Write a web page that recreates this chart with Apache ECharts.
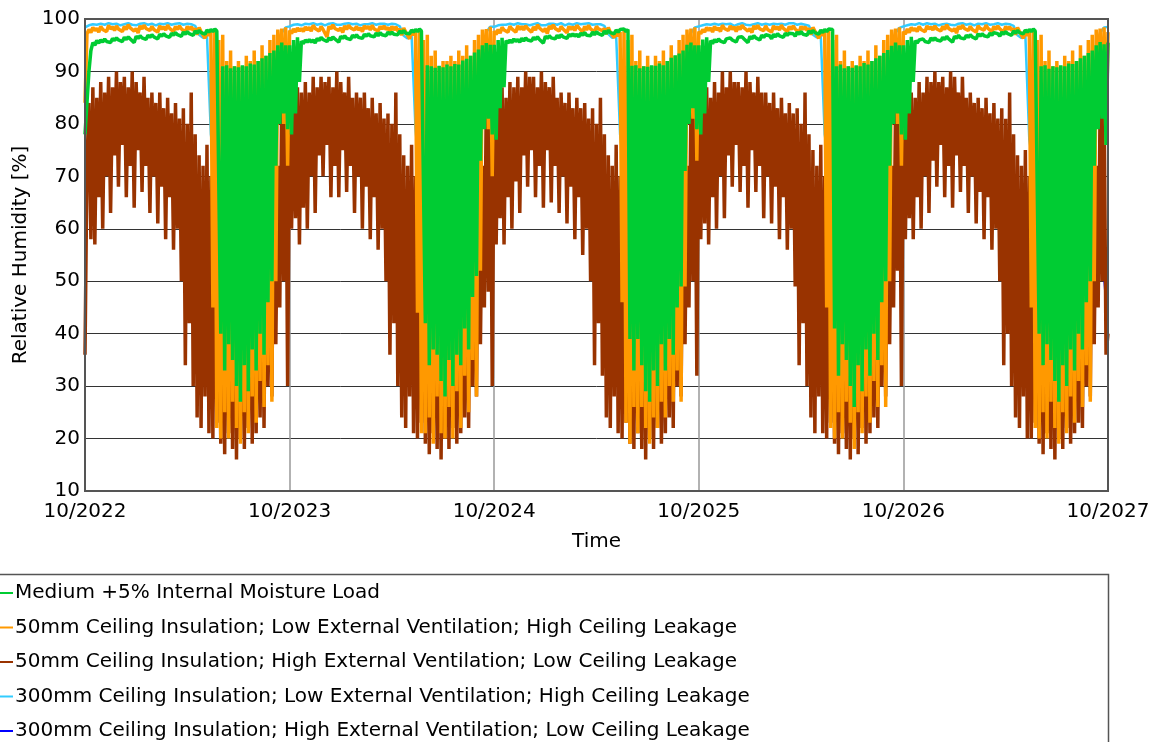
<!DOCTYPE html>
<html><head><meta charset="utf-8">
<script src="https://cdn.jsdelivr.net/npm/echarts/dist/echarts.min.js"></script>
<style>html,body{margin:0;padding:0;background:#fff}#c{width:1153px;height:742px}</style>
</head><body><div id="c"></div>
<script>
// Tick labels (one per October, every 52 weeks)
const tickLabels = ['10/2022','10/2023','10/2024','10/2025','10/2026','10/2027'];
const seriesNames = [
  'Medium +5% Internal Moisture Load',
  '50mm Ceiling Insulation; Low External Ventilation; High Ceiling Leakage',
  '50mm Ceiling Insulation; High External Ventilation; Low Ceiling Leakage',
  '300mm Ceiling Insulation; Low External Ventilation; High Ceiling Leakage',
  '300mm Ceiling Insulation; High External Ventilation; Low Ceiling Leakage'
];
// Dense series: one value every half week (weekly high / low readings)
const greenRH = [
78,84, 90,94, 95.5,95.0, 95.9,95.4,
96.0,95.6, 96.2,95.7, 96.0,95.5, 96.3,95.9,
96.4,96.0, 96.2,95.7, 96.5,96.1, 96.6,96.2,
96.4,95.5, 96.7,96.3, 96.8,96.4, 96.6,96.1,
96.9,96.5, 97.0,96.6, 96.8,96.2, 97.1,96.7,
97.2,96.8, 97.0,96.5, 97.3,96.9, 97.4,97.0,
97.2,96.7, 97.5,97.1, 97.6,97.2, 97.4,96.9,
97.7,97.3, 97.8,97.4, 97.6,97.1, 97.9,97.5,
98.0,97.6, 98.1,97.7, 98.0,40, 91.0,33,
91.2,38, 90.6,35, 91.0,30, 90.8,27,
91.2,34, 91.0,29, 91.5,37, 91.3,33,
92.0,40, 92.5,36, 93.0,46, 93.5,50,
94.0,72, 95.0,80, 95.5,82, 95.0,79,
95.0,78, 96.0,82, 96.5,88, 95.8,95.3,
96.0,95.6, 96.1,95.6, 96.0,95.4, 96.3,95.9,
96.5,96.1, 96.2,95.7, 96.4,96.0, 96.6,96.2,
96.5,95.6, 96.7,96.3, 96.8,96.3, 96.6,96.1,
96.9,96.5, 97.0,96.5, 96.8,96.3, 97.1,96.7,
97.2,96.8, 97.0,96.6, 97.3,96.8, 97.4,97.0,
97.3,96.8, 97.5,97.1, 97.5,97.1, 97.4,97.0,
97.7,97.3, 97.8,97.3, 97.6,97.2, 97.9,97.5,
98.0,97.6, 98.1,97.7, 98.0,42, 91.2,34,
91.0,37, 90.7,36, 91.1,31, 90.8,28,
91.3,35, 91.0,30, 91.4,36, 91.3,34,
92.1,41, 92.4,37, 93.0,47, 93.6,51,
94.2,73, 95.0,79, 95.4,81, 95.1,78,
95.1,77, 96.0,83, 96.4,87, 95.9,95.4,
96.0,95.5, 96.2,95.7, 96.1,95.6, 96.3,95.8,
96.4,96.0, 96.3,95.8, 96.5,96.1, 96.6,96.1,
96.4,95.4, 96.7,96.3, 96.8,96.4, 96.7,96.2,
96.9,96.4, 97.0,96.6, 96.9,96.3, 97.1,96.7,
97.2,96.7, 97.1,96.6, 97.3,96.9, 97.4,96.9,
97.2,96.8, 97.5,97.0, 97.6,97.2, 97.4,96.9,
97.7,97.2, 97.8,97.4, 97.7,97.2, 97.9,97.5,
98.0,97.7, 98.1,97.6, 98.0,39, 91.1,33,
91.2,39, 90.6,34, 91.0,29, 90.9,27,
91.2,33, 91.1,30, 91.5,38, 91.2,33,
92.0,39, 92.6,36, 93.1,45, 93.4,49,
94.0,71, 95.1,80, 95.5,83, 95.0,79,
95.0,78, 96.1,82, 96.5,88, 95.9,95.3,
96.1,95.6, 96.2,95.8, 96.0,95.5, 96.2,95.9,
96.4,96.0, 96.2,95.6, 96.5,96.2, 96.6,96.2,
96.3,95.5, 96.7,96.2, 96.8,96.4, 96.6,96.0,
96.9,96.5, 97.0,96.7, 96.8,96.2, 97.1,96.6,
97.2,96.8, 97.0,96.5, 97.3,96.9, 97.3,97.0,
97.2,96.7, 97.5,97.1, 97.6,97.1, 97.4,96.9,
97.7,97.3, 97.8,97.4, 97.6,97.1, 97.9,97.4,
98.0,97.6, 98.1,97.8, 98.0,41, 91.0,32,
91.3,38, 90.6,35, 91.0,30, 90.7,26,
91.2,34, 91.0,29, 91.6,37, 91.3,32,
92.0,40, 92.5,35, 93.0,46, 93.5,50,
94.1,72, 94.9,80, 95.5,82, 95.0,78,
95.0,77, 96.0,82, 96.6,88, 95.9,95.4,
96.0,95.7, 96.2,95.7, 96.0,95.5, 96.4,95.9,
96.4,96.0, 96.2,95.8, 96.5,96.1, 96.7,96.2,
96.4,95.6, 96.7,96.3, 96.9,96.4, 96.6,96.2,
96.9,96.5, 97.0,96.6, 96.8,96.2, 97.2,96.7,
97.2,96.8, 97.0,96.6, 97.3,96.9, 97.4,97.1,
97.2,96.7, 97.5,97.1, 97.6,97.2, 97.5,96.9,
97.7,97.3, 97.8,97.4, 97.6,97.2, 97.9,97.5,
98.0,97.6, 98.1,97.7, 98.0,40, 91.0,34,
91.2,38, 90.5,35, 91.0,31, 90.8,27,
91.2,34, 91.0,30, 91.5,37, 91.4,33,
92.0,40, 92.5,37, 93.0,46, 93.5,50,
94.0,72, 95.0,79, 95.6,81, 95.2,76,
95.5
];
const orangeRH = [
84,97.2, 98.0,97.4, 98.4,97.8, 98.2,97.5,
98.6,98.0, 98.3,97.6, 98.8,98.1, 98.5,97.8,
98.7,98.1, 98.4,97.6, 98.6,98.0, 98.9,98.3,
98.5,97.7, 98.2,97.3, 98.7,98.1, 98.8,98.2,
98.4,97.8, 98.6,98.0, 98.3,97.5, 98.7,98.1,
98.5,97.9, 98.8,98.2, 98.4,97.6, 98.6,98.0,
98.7,98.1, 98.3,97.5, 98.6,98.0, 98.5,97.8,
98.2,97.0, 98.4,97.6, 97.6,96.3, 97.8,96.8,
97.5,45, 98,22, 96,20, 97,25,
92,20, 94,27, 91,22, 92,19,
91,25, 93,21, 92,28, 94,23,
92,31, 95,26, 93,34, 96,27,
97,50, 98,88, 98.2,80, 98.4,72,
97.8,97.2, 98.1,97.5, 98.3,97.7, 98.2,97.6,
98.5,97.9, 98.4,97.7, 98.8,98.2, 98.5,97.7,
98.6,98.0, 98.3,96.6, 98.6,98.1, 98.9,98.2,
98.5,97.8, 98.3,97.4, 98.7,98.0, 98.8,98.3,
98.5,97.9, 98.6,97.9, 98.3,97.6, 98.7,98.2,
98.6,97.9, 98.8,98.1, 98.4,97.7, 98.6,98.1,
98.7,98.0, 98.4,97.6, 98.6,97.9, 98.5,97.7,
98.1,96.9, 98.3,97.5, 97.5,96.2, 97.9,96.9,
97.4,44, 98,21, 96,21, 97,24,
93,19, 94,28, 91,21, 92,20,
92,26, 93,20, 92,29, 94,22,
93,32, 95,25, 93,35, 96,28,
97,52, 98,87, 98.1,79, 98.5,70,
97.7,97.0, 98.0,97.3, 98.4,97.9, 98.1,97.5,
98.6,98.1, 98.3,97.5, 98.7,98.0, 98.6,97.9,
98.7,98.2, 98.4,97.5, 98.5,97.9, 98.9,98.3,
98.4,97.6, 98.2,97.2, 98.7,98.1, 98.9,98.2,
98.4,97.7, 98.6,98.1, 98.3,97.4, 98.6,98.0,
98.5,97.8, 98.8,98.3, 98.4,97.5, 98.6,97.9,
98.8,98.1, 98.3,97.6, 98.6,98.1, 98.4,97.8,
98.2,97.1, 98.4,97.5, 97.6,96.4, 97.7,96.7,
97.5,46, 98,23, 96,19, 97,26,
92,21, 94,26, 91,22, 93,19,
91,24, 93,22, 92,27, 94,24,
92,30, 95,27, 93,33, 96,27,
97,49, 98,88, 98.2,81, 98.4,73,
97.6,97.2, 98.0,97.5, 98.4,97.8, 98.3,97.5,
98.6,97.9, 98.3,97.6, 98.8,98.2, 98.5,97.8,
98.7,98.0, 98.5,97.6, 98.6,98.0, 98.8,98.3,
98.5,97.7, 98.2,97.4, 98.7,98.1, 98.8,98.1,
98.4,97.8, 98.7,98.0, 98.3,97.5, 98.7,98.1,
98.5,97.9, 98.8,98.2, 98.5,97.6, 98.6,98.0,
98.7,98.1, 98.3,97.4, 98.6,98.0, 98.5,97.8,
98.2,97.0, 98.4,97.7, 97.6,96.3, 97.8,96.8,
97.6,45, 98,22, 96,20, 97,25,
92,20, 94,27, 91,23, 92,18,
91,25, 93,21, 92,28, 94,23,
92,31, 95,26, 93,34, 96,26,
97,50, 98,88, 98.2,80, 98.4,72,
97.6,97.1, 98.1,97.4, 98.4,97.8, 98.2,97.6,
98.6,98.0, 98.3,97.6, 98.7,98.1, 98.5,97.9,
98.7,98.1, 98.4,97.7, 98.6,98.0, 98.9,98.2,
98.5,97.7, 98.2,97.3, 98.6,98.1, 98.8,98.2,
98.4,97.8, 98.6,98.0, 98.3,97.5, 98.7,98.2,
98.5,97.9, 98.8,98.2, 98.4,97.6, 98.6,98.0,
98.7,98.1, 98.3,97.5, 98.6,98.0, 98.5,97.8,
98.2,97.0, 98.4,97.6, 97.6,96.3, 97.8,96.8,
97.5,45, 98,22, 96,20, 97,25,
92,20, 94,27, 91,22, 92,19,
91,25, 93,21, 92,28, 94,23,
92,31, 95,26, 93,34, 96,27,
97,50, 98,88, 98.2,82, 98.4,76,
97.5
];
const brownRH = [
36,72, 84,58, 87,57, 85,66,
88,60, 86,70, 89,63, 87,74,
90,68, 88,76, 89,66, 87,72,
90,64, 88,75, 86,67, 89,72,
85,63, 86,70, 84,61, 86,68,
83,58, 85,66, 82,56, 84,60,
81,50, 83,34, 80,42, 86,30,
78,24, 74,22, 72,28, 76,21,
70,20, 80,23, 72,19, 66,17,
70,21, 62,18, 68,16, 64,20,
70,18, 62,22, 68,19, 60,21,
70,24, 64,22, 72,30, 66,28,
74,38, 72,45, 84,50, 88,30,
85,60, 84,62, 87,57, 86,64,
88,60, 86,70, 89,63, 87,74,
89,70, 88,76, 89,66, 87,72,
90,66, 88,75, 86,67, 89,72,
85,63, 86,70, 85,60, 86,68,
83,58, 85,66, 82,56, 84,60,
81,50, 82,36, 80,42, 86,30,
78,24, 74,22, 72,28, 76,21,
70,20, 80,23, 72,19, 66,17,
70,21, 62,18, 67,16, 64,20,
70,18, 62,22, 68,19, 60,21,
70,24, 64,22, 72,30, 66,28,
74,38, 72,45, 85,48, 88,30,
86,57, 84,62, 87,57, 85,66,
88,60, 87,69, 89,63, 87,74,
90,68, 89,75, 89,66, 87,72,
90,64, 88,75, 87,65, 89,72,
85,63, 86,70, 84,61, 86,68,
83,58, 85,66, 83,55, 84,60,
81,50, 83,34, 80,42, 85,32,
78,24, 74,22, 72,28, 76,21,
70,20, 80,23, 72,19, 65,18,
70,21, 62,18, 68,16, 64,20,
70,18, 62,22, 68,19, 60,21,
70,24, 64,22, 72,30, 66,28,
74,38, 72,45, 84,50, 87,32,
86,58, 85,61, 87,57, 85,66,
88,60, 86,70, 90,62, 87,74,
90,68, 88,76, 88,67, 87,72,
90,64, 88,75, 86,67, 89,72,
86,62, 86,70, 84,61, 86,68,
83,58, 85,66, 82,56, 84,60,
82,49, 83,34, 80,42, 86,30,
78,24, 75,21, 72,28, 76,21,
70,20, 80,23, 72,19, 66,17,
70,21, 62,18, 68,16, 64,20,
69,17, 62,22, 68,19, 60,21,
70,24, 64,22, 72,30, 66,28,
74,38, 72,45, 83,52, 88,30,
86,58, 84,62, 86,58, 85,66,
88,60, 86,70, 89,63, 88,73,
90,68, 88,76, 89,66, 87,72,
90,64, 89,74, 86,67, 89,72,
85,63, 86,70, 84,61, 85,67,
83,58, 85,66, 82,56, 84,60,
81,50, 83,34, 81,40, 86,30,
78,24, 74,22, 72,28, 75,20,
70,20, 80,23, 72,19, 66,17,
70,21, 62,18, 68,16, 64,20,
70,18, 62,22, 68,19, 60,21,
71,23, 64,22, 72,30, 66,28,
74,38, 72,45, 84,50, 86,36,
40
];
// Weekly series: one value per week
const lightBlueRH = [
98.4,98.8,99.0,98.9,99.1,98.9,99.2,99.0,99.1,98.8,99.0,99.2,98.9,
98.8,99.1,99.2,98.9,99.1,98.8,99.1,99.0,99.2,98.9,99.1,99.2,98.9,
99.1,99.0,98.7,97.0,96.4,96.8,78,72,68,62,70,58,66,
60,68,62,70,64,72,68,76,74,85,93,97.4,98.4,
98.6,98.9,99.0,98.8,99.1,99.0,99.2,98.9,99.1,98.8,99.1,99.2,98.9,
98.9,99.1,99.2,99.0,99.1,98.8,99.0,99.0,99.2,98.9,99.1,99.1,98.9,
99.1,99.0,98.6,96.8,96.3,97.0,79,71,67,63,70,59,66,
61,68,63,70,65,72,67,76,75,86,93,97.5,98.5,
98.5,98.8,98.9,98.9,99.1,98.9,99.2,99.0,99.0,98.8,99.0,99.2,98.8,
98.8,99.1,99.1,98.9,99.2,98.8,99.1,98.9,99.2,99.0,99.1,99.2,98.9,
99.0,99.0,98.7,97.1,96.4,96.7,78,72,68,61,70,58,67,
60,69,62,70,64,73,68,75,74,85,92,97.3,98.4,
98.6,98.8,99.0,98.9,99.1,98.9,99.1,99.0,99.1,98.7,99.0,99.2,98.9,
98.8,99.0,99.2,98.9,99.1,98.9,99.1,99.0,99.1,98.9,99.2,99.2,98.9,
99.1,98.9,98.7,97.0,96.5,96.8,78,73,68,62,71,58,66,
60,68,62,71,64,72,68,76,74,84,93,97.4,98.3,
98.6,98.8,99.0,98.9,99.2,98.9,99.2,99.0,99.1,98.8,99.0,99.1,98.9,
98.8,99.1,99.2,98.9,99.1,98.8,99.1,99.0,99.2,98.9,99.0,99.2,98.9,
99.1,99.0,98.7,96.9,96.4,96.8,77,72,68,62,70,59,66,
60,68,62,70,64,72,68,76,74,85,93,97.4,98.4,
98.5
];
const darkBlueRH = [
62,76,78,77,80,78,81,79,82,80,81,79,82,
80,79,80,78,78,77,77,75,75,73,73,68,62,
58,55,50,46,44,45,40,42,45,40,42,44,40,
45,42,44,46,45,48,46,50,52,56,60,66,76,
78,77,78,77,80,78,80,79,82,80,81,78,82,
80,79,81,78,78,77,77,75,75,73,73,67,62,
58,55,50,46,44,45,40,42,45,41,42,44,40,
45,42,44,46,45,48,46,50,52,56,60,66,76,
78,77,78,77,80,78,81,79,82,80,81,79,82,
80,79,80,78,78,77,77,75,75,73,73,68,62,
58,54,50,46,44,45,40,42,45,40,42,44,40,
45,42,44,46,45,48,46,50,52,56,60,66,76,
78,77,78,77,80,78,81,79,82,80,81,79,82,
80,79,80,78,78,77,77,75,75,73,73,68,62,
58,55,50,46,44,45,40,42,45,40,42,44,40,
45,42,44,46,45,48,46,50,52,56,60,66,76,
78,77,78,77,80,78,81,79,82,80,81,79,82,
80,79,80,78,78,77,77,75,75,73,73,68,62,
58,55,50,46,44,45,40,42,45,40,42,44,40,
45,42,44,46,45,48,46,50,52,56,60,62,50,
40
];
const colors = ['#00CC33', '#FF9900', '#993300', '#33CCFF', '#0000FF'];
const FONT = 'DejaVu Sans, Verdana, sans-serif';

const halfWeek = v => v.map((y, i) => [i * 0.5, y]);
const weekly = v => v.map((y, i) => [i, y]);

const chart = echarts.init(document.getElementById('c'), null, {renderer: 'canvas'});
const mk = (idx, data, z, w) => ({
  name: seriesNames[idx], type: 'line', data: data, color: colors[idx],
  showSymbol: false, symbol: 'none', z: z, silent: true, clip: true,
  lineStyle: {width: w, color: colors[idx], join: 'bevel'}
});
chart.setOption({
  animation: false,
  backgroundColor: '#fff',
  textStyle: {fontFamily: FONT},
  grid: {left: 85, top: 19, right: 45, bottom: 251, show: true, borderColor: '#555', borderWidth: 2, backgroundColor: 'transparent', z: 10},
  xAxis: {
    type: 'value', min: 0, max: 260, interval: 52,
    name: 'Time', nameLocation: 'middle', nameGap: 41,
    nameTextStyle: {fontSize: 20, color: '#000', fontFamily: FONT},
    axisLine: {show: false}, axisTick: {show: false},
    axisLabel: {fontSize: 20, color: '#000', margin: 11, fontFamily: FONT,
      formatter: v => tickLabels[Math.round(v / 52)]},
    splitLine: {show: true, lineStyle: {color: '#999', width: 1.5}}
  },
  yAxis: {
    type: 'value', min: 10, max: 100, interval: 10,
    name: 'Relative Humidity [%]', nameLocation: 'middle', nameGap: 50,
    nameTextStyle: {fontSize: 20, color: '#000', fontFamily: FONT},
    axisLine: {show: false}, axisTick: {show: false},
    axisLabel: {fontSize: 20, color: '#000', margin: 5, fontFamily: FONT},
    splitLine: {show: true, lineStyle: {color: '#333', width: 1}}
  },
  legend: {
    orient: 'vertical', left: 0, top: 583, padding: 0,
    itemGap: 14.5, itemWidth: 13, itemHeight: 2, icon: 'rect',
    textStyle: {fontSize: 20, lineHeight: 20, color: '#000', fontFamily: FONT, padding: [0,0,0,-3]},
    data: seriesNames, selectedMode: false
  },
  graphic: [{
    type: 'rect', z: -1, silent: true,
    shape: {x: -2, y: 574.5, width: 1110.5, height: 200},
    style: {fill: 'none', stroke: '#555', lineWidth: 1.5}
  }],
  series: [
    mk(0, halfWeek(greenRH), 7, 3.5),
    mk(1, halfWeek(orangeRH), 6, 3.5),
    mk(2, halfWeek(brownRH), 5, 3.5),
    mk(3, weekly(lightBlueRH), 4, 2.5),
    mk(4, weekly(darkBlueRH), 3, 1.5)
  ]
});
</script>
</body></html>
